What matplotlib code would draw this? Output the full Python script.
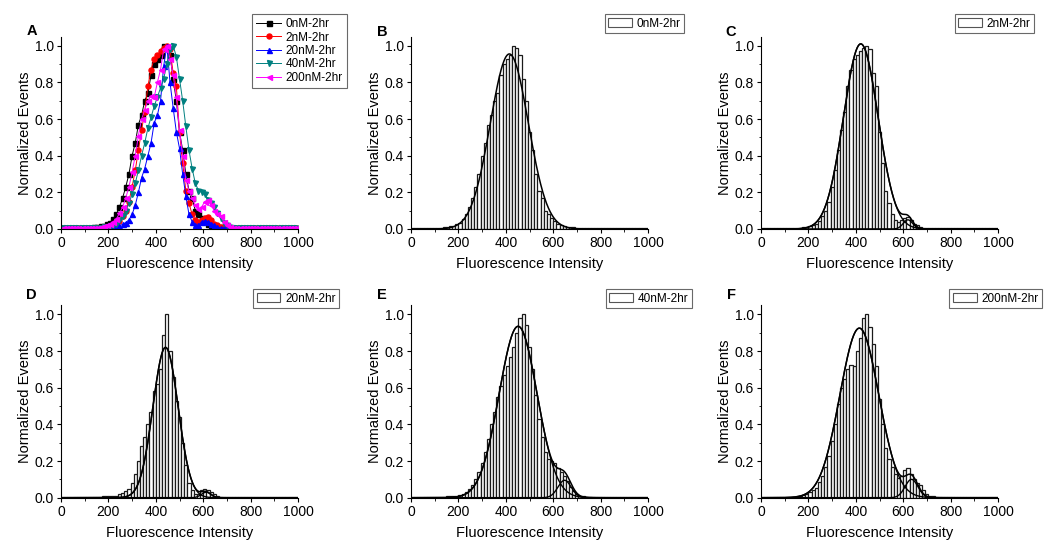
import numpy as np
import matplotlib.pyplot as plt
from matplotlib.patches import Patch

plt.rcParams['font.family'] = ['Liberation Sans', 'DejaVu Sans']

# histogram bins: 75 bins over 0-1000
bin_width = 1000 / 75
bin_centers = np.arange(75) * bin_width + bin_width / 2

labels = ["0nM-2hr", "2nM-2hr", "20nM-2hr", "40nM-2hr", "200nM-2hr"]

events_0nM = [
    0.006, 0.005, 0.006, 0.005, 0.006, 0.005, 0.006, 0.007, 0.006, 0.008,
    0.009, 0.011, 0.014, 0.018, 0.025, 0.035, 0.055, 0.08, 0.12, 0.17,
    0.23, 0.30, 0.40, 0.47, 0.57, 0.62, 0.70, 0.74, 0.84, 0.90,
    0.93, 0.95, 1.00, 0.985, 0.95, 0.82, 0.70, 0.53, 0.43, 0.30,
    0.21, 0.17, 0.10, 0.08, 0.06, 0.045, 0.03, 0.02, 0.015, 0.012,
    0.01, 0.009, 0.008, 0.007, 0.006, 0.006, 0.005, 0.006, 0.005, 0.005,
    0.004, 0.005, 0.004, 0.005, 0.004, 0.004, 0.005, 0.004, 0.004, 0.005,
    0.004, 0.004, 0.005, 0.004, 0.004]
events_2nM = [
    0.005, 0.005, 0.004, 0.005, 0.005, 0.004, 0.005, 0.005, 0.005, 0.005,
    0.006, 0.007, 0.008, 0.01, 0.012, 0.016, 0.02, 0.03, 0.045, 0.07,
    0.10, 0.15, 0.23, 0.32, 0.43, 0.54, 0.64, 0.78, 0.87, 0.93,
    0.95, 0.97, 0.99, 1.00, 0.98, 0.85, 0.78, 0.53, 0.36, 0.21,
    0.14, 0.08, 0.05, 0.04, 0.05, 0.06, 0.065, 0.05, 0.03, 0.02,
    0.012, 0.008, 0.006, 0.005, 0.005, 0.004, 0.005, 0.004, 0.004, 0.005,
    0.004, 0.004, 0.005, 0.004, 0.004, 0.004, 0.005, 0.004, 0.004, 0.004,
    0.005, 0.004, 0.004, 0.004, 0.004]
events_20nM = [
    0.006, 0.006, 0.005, 0.006, 0.006, 0.005, 0.006, 0.006, 0.005, 0.006,
    0.006, 0.006, 0.006, 0.007, 0.007, 0.008, 0.01, 0.012, 0.018, 0.025,
    0.035, 0.05, 0.08, 0.13, 0.20, 0.28, 0.33, 0.40, 0.47, 0.58,
    0.62, 0.70, 0.89, 1.00, 0.80, 0.66, 0.53, 0.44, 0.30, 0.18,
    0.08, 0.04, 0.02, 0.02, 0.04, 0.045, 0.04, 0.03, 0.02, 0.01,
    0.006, 0.005, 0.005, 0.005, 0.004, 0.005, 0.004, 0.004, 0.005, 0.004,
    0.004, 0.004, 0.005, 0.004, 0.004, 0.004, 0.004, 0.005, 0.004, 0.004,
    0.004, 0.004, 0.004, 0.004, 0.004]
events_40nM = [
    0.005, 0.005, 0.004, 0.005, 0.005, 0.005, 0.004, 0.005, 0.005, 0.005,
    0.006, 0.007, 0.008, 0.01, 0.012, 0.015, 0.022, 0.03, 0.05, 0.07,
    0.10, 0.14, 0.19, 0.25, 0.32, 0.40, 0.47, 0.55, 0.61, 0.67,
    0.72, 0.77, 0.82, 0.90, 0.98, 1.00, 0.94, 0.82, 0.70, 0.56,
    0.43, 0.33, 0.25, 0.21, 0.20, 0.19, 0.16, 0.14, 0.12, 0.09,
    0.06, 0.035, 0.02, 0.012, 0.008, 0.006, 0.005, 0.005, 0.004, 0.005,
    0.004, 0.004, 0.005, 0.004, 0.004, 0.004, 0.005, 0.004, 0.004, 0.004,
    0.004, 0.005, 0.004, 0.004, 0.004]
events_200nM = [
    0.005, 0.005, 0.005, 0.004, 0.005, 0.005, 0.005, 0.005, 0.005, 0.005,
    0.006, 0.008, 0.01, 0.015, 0.02, 0.03, 0.04, 0.055, 0.085, 0.12,
    0.17, 0.23, 0.31, 0.40, 0.51, 0.60, 0.65, 0.70, 0.725, 0.72,
    0.80, 0.87, 0.98, 1.00, 0.93, 0.84, 0.72, 0.54, 0.40, 0.27,
    0.21, 0.17, 0.13, 0.11, 0.12, 0.15, 0.16, 0.13, 0.10, 0.08,
    0.07, 0.04, 0.02, 0.01, 0.008, 0.006, 0.005, 0.005, 0.004, 0.005,
    0.004, 0.004, 0.005, 0.004, 0.004, 0.004, 0.004, 0.005, 0.004, 0.004,
    0.004, 0.004, 0.004, 0.004, 0.004]

all_events = [events_0nM, events_2nM, events_20nM, events_40nM, events_200nM]

# gaussian fit parameters (amplitude, center, sigma); second peak None for 0nM
main_fits = [(0.955, 415, 80), (1.01, 421, 73), (0.82, 441, 53),
             (0.935, 452, 80), (0.925, 415, 82)]
second_fits = [None, (0.05, 620, 20), (0.03, 612, 20),
               (0.095, 648, 28), (0.10, 635, 27)]

colors = ["#000000", "#ff0000", "#0000ff", "#008080", "#ff00ff"]
markers = ["s", "o", "^", "v", "<"]


def gauss(x, p):
    a, mu, s = p
    return a * np.exp(-(x - mu) ** 2 / (2 * s ** 2))


def style_axes(ax, letter, lx, ly):
    ax.set_xlim(0, 1000)
    ax.set_ylim(0, 1.05)
    ax.spines["top"].set_visible(False)
    ax.spines["right"].set_visible(False)
    ax.set_xticks(np.arange(0, 1001, 200))
    ax.set_xticks(np.arange(0, 1001, 100), minor=True)
    ax.set_yticks(np.arange(0, 1.01, 0.2))
    ax.set_yticks(np.arange(0, 1.05, 0.1), minor=True)
    ax.set_yticklabels(["0.0", "0.2", "0.4", "0.6", "0.8", "1.0"])
    ax.tick_params(which="major", direction="out", length=3, width=0.8,
                   labelsize=10, pad=2)
    ax.tick_params(which="minor", direction="out", length=1.8, width=0.6)
    ax.set_xlabel("Fluorescence Intensity", fontsize=10.5, labelpad=5)
    ax.set_ylabel("Normalized Events", fontsize=10.5, labelpad=2)
    fig.text(lx / 1050, 1 - ly / 548, letter, fontsize=10.5,
             fontweight="bold", ha="center", va="center")


fig = plt.figure(figsize=(10.5, 5.48), dpi=100)

lefts = [61, 411, 761]
w_ax = 237 / 1050
h_ax = 1.05 * 183.3 / 548
bottoms = [1 - 229 / 548, 1 - 497.7 / 548]

# panel A: all distributions as line + markers
axA = fig.add_axes([lefts[0] / 1050, bottoms[0], w_ax, h_ax])
for k in range(5):
    axA.plot(bin_centers, all_events[k], color=colors[k], marker=markers[k],
             markersize=3.6, lw=0.7, label=labels[k])
style_axes(axA, "A", 32, 31)
axA.legend(loc="upper right", bbox_to_anchor=(347 / 1050, 1 - 14 / 548),
           bbox_transform=fig.transFigure, borderaxespad=0, fontsize=8.5,
           frameon=True, fancybox=False, edgecolor="#444444",
           handlelength=2.1, handletextpad=0.4, labelspacing=0.12,
           borderpad=0.35)
axA.get_legend().get_frame().set_linewidth(0.8)

# panels B-F: histograms with gaussian fits
positions = [(lefts[1], bottoms[0], "B", 382, 32, 684, 14),
             (lefts[2], bottoms[0], "C", 731, 32, 1034, 14),
             (lefts[0], bottoms[1], "D", 31, 295, 339, 289),
             (lefts[1], bottoms[1], "E", 382, 295, 692, 289),
             (lefts[2], bottoms[1], "F", 731, 295, 1042, 289)]

xfit = np.linspace(0, 1000, 1001)
for k in range(5):
    left, bottom, letter, lx, ly, gx, gy = positions[k]
    ax = fig.add_axes([left / 1050, bottom, w_ax, h_ax])
    ax.bar(bin_centers, all_events[k], width=bin_width, facecolor="white",
           edgecolor="#1a1a1a", linewidth=0.9)
    g1 = gauss(xfit, main_fits[k])
    if second_fits[k] is None:
        ax.plot(xfit, g1, color="black", lw=1.1)
    else:
        g2 = gauss(xfit, second_fits[k])
        ax.plot(xfit, g1, color="black", lw=1.0)
        ax.plot(xfit, g2, color="black", lw=1.0)
        ax.plot(xfit, g1 + g2, color="black", lw=1.1)
    style_axes(ax, letter, lx, ly)
    handle = Patch(facecolor="white", edgecolor="#555555", linewidth=0.8)
    leg = ax.legend([handle], [labels[k]], loc="upper right",
                    bbox_to_anchor=(gx / 1050, 1 - gy / 548),
                    bbox_transform=fig.transFigure, borderaxespad=0,
                    fontsize=8.5, frameon=True, fancybox=False,
                    edgecolor="#444444", handlelength=2.0, handleheight=0.8,
                    handletextpad=0.4, borderpad=0.3)
    leg.get_frame().set_linewidth(0.8)

fig.savefig("out.png", dpi=100)
